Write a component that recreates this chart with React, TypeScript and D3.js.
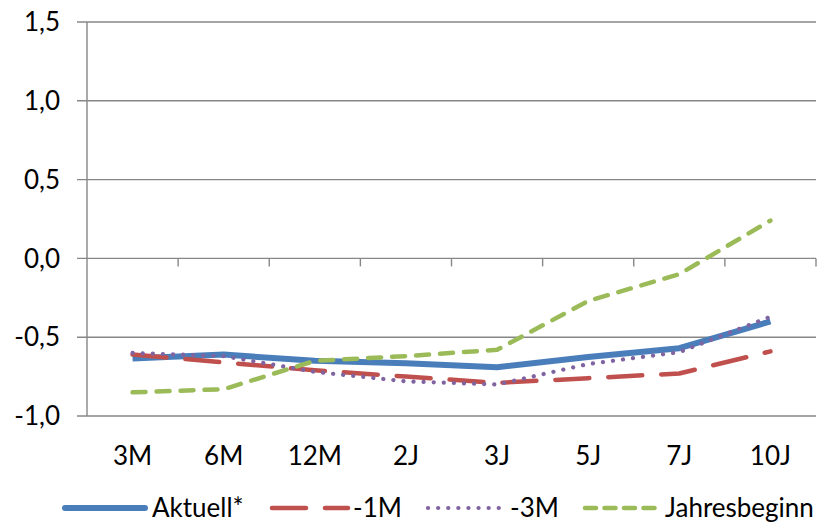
import React from "react";
import * as d3 from "d3";

const categories = ["3M", "6M", "12M", "2J", "3J", "5J", "7J", "10J"];
const aktuell = [-0.635, -0.61, -0.65, -0.665, -0.69, -0.625, -0.57, -0.40];
const minus1M = [-0.61, -0.66, -0.71, -0.75, -0.79, -0.76, -0.73, -0.59];
const minus3M = [-0.60, -0.62, -0.72, -0.78, -0.80, -0.67, -0.595, -0.37];
const jahresbeginn = [-0.85, -0.83, -0.65, -0.62, -0.58, -0.27, -0.10, 0.24];
const yTicks = [1.5, 1.0, 0.5, 0.0, -0.5, -1.0];
const seriesNames = ["Aktuell*", "-1M", "-3M", "Jahresbeginn"];

const W = 824, H = 525;
const left = 87, right = 816, top = 22, bottom = 416;
const FONT = "Lato, 'Open Sans', sans-serif";
const FS = 26;

const styles = [
  { color: "#4A7EBB", width: 6, dash: null as string | null, cap: "butt" },
  { color: "#C0504D", width: 4.5, dash: "34,19", cap: "round" },
  { color: "#8064A2", width: 4.2, dash: "0.1,10", cap: "round" },
  { color: "#9BBB59", width: 4.5, dash: "13,11", cap: "round" },
];

export default function App() {
  const x = d3.scaleBand<string>().domain(categories).range([left, right]);
  const y = d3.scaleLinear().domain([-1, 1.5]).range([bottom, top]);
  const data = [aktuell, minus1M, minus3M, jahresbeginn];
  const line = d3
    .line<number>()
    .x((_, i) => (x(categories[i]) as number) + x.bandwidth() / 2)
    .y((d) => y(d));
  const fmt = (v: number) => d3.format(".1f")(v).replace(".", ",").replace("−", "-");
  const grid = "#878787";
  const legendItems = [
    { l1: 65, l2: 145, tx: 152, dash: null as string | null },
    { l1: 272, l2: 348, tx: 353, dash: "34,19" },
    { l1: 428, l2: 500, tx: 510, dash: "0.1,10" },
    { l1: 585, l2: 655, tx: 665, dash: "11,8.5" },
  ];
  const ly = 508;
  return (
    <svg width={W} height={H} style={{ position: "absolute", left: 0, top: 0 }}>
      <rect width={W} height={H} fill="#fff" />
      {yTicks.map((t) => (
        <g key={t}>
          <line x1={77} x2={right} y1={y(t)} y2={y(t)} stroke={grid} strokeWidth={1.4} />
          <text x={60} y={y(t)} dy="0.35em" textAnchor="end" fontFamily={FONT} fontSize={FS} fill="#000">
            {fmt(t)}
          </text>
        </g>
      ))}
      <line x1={left} x2={left} y1={top} y2={bottom} stroke={grid} strokeWidth={1.4} />
      {categories.map((c) => (
        <g key={c}>
          <line
            x1={(x(c) as number) + x.bandwidth()}
            x2={(x(c) as number) + x.bandwidth()}
            y1={y(0)}
            y2={y(0) + 8}
            stroke={grid}
            strokeWidth={1.4}
          />
          <text
            x={(x(c) as number) + x.bandwidth() / 2}
            y={465}
            textAnchor="middle"
            fontFamily={FONT}
            fontSize={FS}
            fill="#000"
          >
            {c}
          </text>
        </g>
      ))}
      {data.map((d, i) => (
        <path
          key={i}
          d={line(d) as string}
          fill="none"
          stroke={styles[i].color}
          strokeWidth={styles[i].width}
          strokeDasharray={styles[i].dash ?? undefined}
          strokeLinecap={styles[i].cap as any}
          strokeLinejoin="round"
        />
      ))}
      {seriesNames.map((n, i) => (
        <g key={n}>
          <line
            x1={legendItems[i].l1}
            x2={legendItems[i].l2}
            y1={ly}
            y2={ly}
            stroke={styles[i].color}
            strokeWidth={styles[i].width}
            strokeDasharray={legendItems[i].dash ?? undefined}
            strokeLinecap="round"
          />
          <text x={legendItems[i].tx} y={ly} dy="0.35em" fontFamily={FONT} fontSize={FS} fill="#000">
            {n}
          </text>
        </g>
      ))}
    </svg>
  );
}
